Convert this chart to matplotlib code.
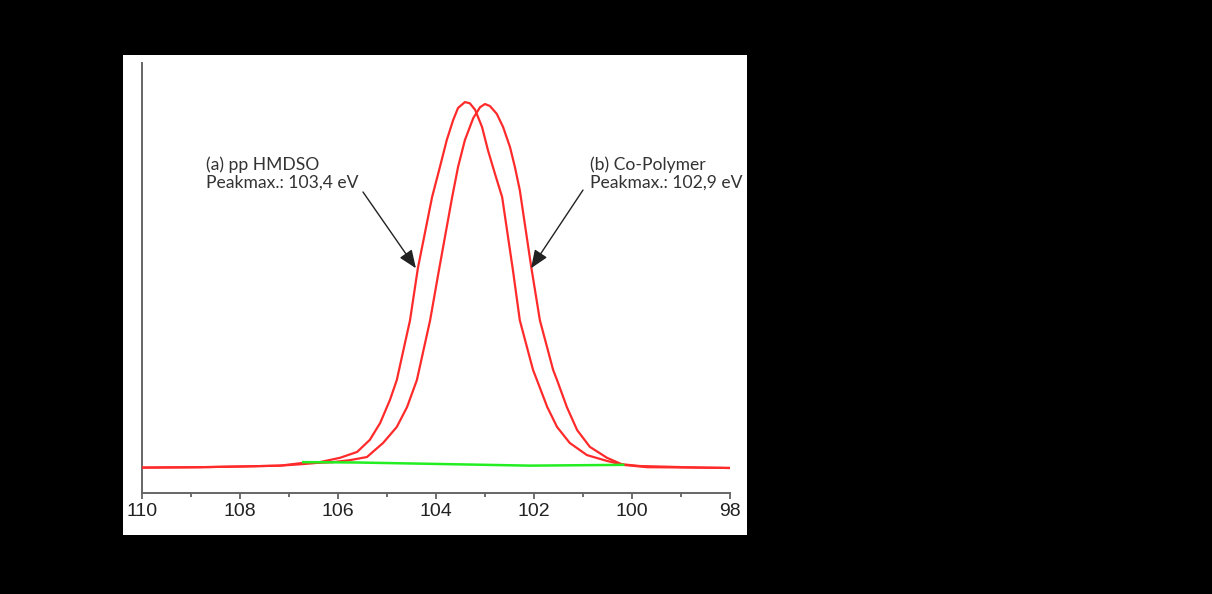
import matplotlib
matplotlib.use("Agg")
import matplotlib.pyplot as plt

# ---- data (binding energy in eV, intensity in arbitrary units) ----
energy_a = [110.00, 108.82, 107.90, 107.18, 106.71, 106.37, 105.96, 105.61, 105.35,
            105.14, 104.94, 104.80, 104.53, 104.37, 104.08, 103.92, 103.78, 103.65,
            103.55, 103.41, 103.31, 103.20, 103.06, 102.94, 102.80, 102.65, 102.43,
            102.29, 102.02, 101.94, 101.73, 101.53, 101.27, 100.92, 100.51, 100.24,
            99.84, 98.61, 98.00]
intens_a = [0.065, 0.066, 0.068, 0.070, 0.077, 0.079, 0.090, 0.105, 0.136,
            0.179, 0.238, 0.289, 0.442, 0.575, 0.757, 0.834, 0.903, 0.954,
            0.985, 1.000, 0.997, 0.980, 0.936, 0.877, 0.818, 0.757, 0.570,
            0.442, 0.315, 0.289, 0.220, 0.169, 0.128, 0.097, 0.082, 0.074,
            0.069, 0.065, 0.064]

energy_b = [110.00, 108.82, 107.90, 107.18, 106.71, 106.43, 106.10, 105.76, 105.41,
            105.08, 104.80, 104.59, 104.39, 104.12, 103.94, 103.67, 103.55, 103.41,
            103.24, 103.10, 103.00, 102.90, 102.76, 102.63, 102.49, 102.39, 102.29,
            102.06, 101.88, 101.61, 101.53, 101.33, 101.12, 100.86, 100.51, 100.18,
            99.69, 98.61, 98.00]
intens_b = [0.065, 0.066, 0.068, 0.070, 0.074, 0.077, 0.079, 0.084, 0.092,
            0.128, 0.169, 0.220, 0.289, 0.442, 0.570, 0.757, 0.834, 0.903,
            0.959, 0.987, 0.995, 0.990, 0.970, 0.936, 0.885, 0.834, 0.775,
            0.581, 0.442, 0.315, 0.289, 0.220, 0.161, 0.118, 0.090, 0.072,
            0.066, 0.065, 0.064]

energy_bg = [106.71, 105.60, 102.08, 100.18]
intens_bg = [0.079, 0.078, 0.070, 0.072]

label_a = "(a) pp HMDSO\nPeakmax.: 103,4 eV"
label_b = "(b) Co-Polymer\nPeakmax.: 102,9 eV"
tip_a = (104.41, 0.575)
tail_a = (105.49, 0.770)
tip_b = (102.06, 0.575)
tail_b = (101.0, 0.775)
xticks_major = [110, 108, 106, 104, 102, 100, 98]
xticks_minor = [109, 107, 105, 103, 101, 99]

W, H = 1212, 594
fig = plt.figure(figsize=(W / 100, H / 100), dpi=100)
fig.patch.set_facecolor("black")

# white panel (background axes)
bg = fig.add_axes([123 / W, 1 - 535 / H, 624 / W, 480 / H], zorder=-5)
bg.set_facecolor("white")
bg.set_xticks([])
bg.set_yticks([])
for s in bg.spines.values():
    s.set_visible(False)

ax = fig.add_axes([142 / W, 1 - 493 / H, 588 / W, 430 / H], zorder=1)
ax.set_facecolor("none")

line_kw = dict(color="#ff2a2a", lw=1.6, solid_joinstyle="round", zorder=3)
ax.plot(energy_a, intens_a, **line_kw)
ax.plot(energy_b, intens_b, **line_kw)
ax.plot(energy_bg, intens_bg, color="#22ee22", lw=1.8, zorder=4)

ax.set_xlim(110, 98)
ax.set_ylim(0, 1.1)

for s in ["top", "right"]:
    ax.spines[s].set_visible(False)
for s in ["left", "bottom"]:
    ax.spines[s].set_color("#666666")
    ax.spines[s].set_linewidth(1.4)

ax.set_xticks(xticks_major)
ax.set_xticks(xticks_minor, minor=True)
ax.set_xticklabels([str(t) for t in xticks_major])
ax.tick_params(axis="x", which="major", direction="out", length=4.5, width=1.2,
               color="#555555", labelsize=14, labelcolor="#222222", pad=3)
ax.tick_params(axis="x", which="minor", direction="out", length=3, width=1.2,
               color="#555555")
ax.set_yticks([])
for lbl in ax.get_xticklabels():
    lbl.set_fontfamily("Liberation Sans")

ax.text(108.69, 0.862, label_a, ha="left", va="top", fontsize=12.6,
        family="Lato", color="#333333", linespacing=1.12)
ax.text(100.86, 0.862, label_b, ha="left", va="top", fontsize=12.6,
        family="Lato", color="#333333", linespacing=1.12, clip_on=False)

arrow_kw = dict(arrowstyle="-|>,head_length=1.1,head_width=0.45", color="#222222",
                lw=1.0, shrinkA=0, shrinkB=0)
ax.annotate("", xy=tip_a, xytext=tail_a, arrowprops=arrow_kw)
ax.annotate("", xy=tip_b, xytext=tail_b, arrowprops=arrow_kw)

# y-axis label (black, mostly hidden on black background)
fig.text(117 / W, 1 - 268 / H, "Intensität (a.u.)", rotation=90, ha="center",
         va="center", fontsize=12, color="black", family="Liberation Sans")

fig.savefig("out.png", dpi=100, facecolor=fig.get_facecolor())
